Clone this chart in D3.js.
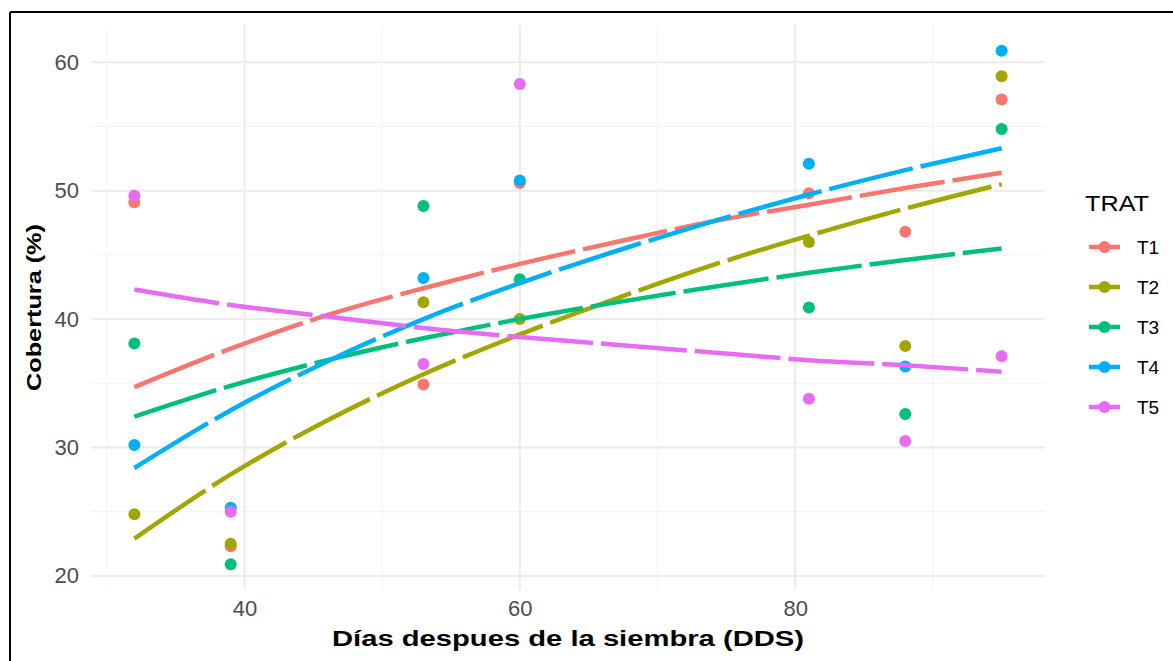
<!DOCTYPE html>
<html>
<head>
<meta charset="utf-8">
<script src="https://cdn.jsdelivr.net/npm/d3@7"></script>
<style>
  body { margin: 0; background: white; }
  text { font-family: "Liberation Sans", Arial, sans-serif; }
</style>
</head>
<body>
<div id="chart"></div>
<script>
// observed data
var days = [32, 39, 53, 60, 81, 88, 95];
var trats = ["T1", "T2", "T3", "T4", "T5"];
var t1 = [49.1, 22.3, 34.9, 50.6, 49.8, 46.8, 57.1];
var t2 = [24.8, 22.5, 41.3, 40.0, 46.0, 37.9, 58.9];
var t3 = [38.1, 20.9, 48.8, 43.1, 40.9, 32.6, 54.8];
var t4 = [30.2, 25.3, 43.2, 50.8, 52.1, 36.3, 60.9];
var t5 = [49.6, 25.0, 36.5, 58.3, 33.8, 30.5, 37.1];

// fitted trend lines
var fitDays = [32, 39, 46, 53, 60, 67, 74, 81, 88, 95];
var fit1 = [34.7, 37.7, 40.3, 42.4, 44.3, 46.0, 47.6, 48.9, 50.2, 51.4];
var fit2 = [22.9, 27.9, 32.1, 35.7, 38.8, 41.6, 44.2, 46.5, 48.6, 50.5];
var fit3 = [32.4, 34.8, 36.8, 38.5, 40.0, 41.3, 42.5, 43.6, 44.6, 45.5];
var fit4 = [28.4, 32.9, 36.7, 40.0, 42.8, 45.3, 47.6, 49.7, 51.6, 53.3];
var fit5 = [42.3, 41.1, 40.2, 39.3, 38.6, 38.0, 37.4, 36.8, 36.4, 35.9];

var xTicks = [40, 60, 80];
var yTicks = [20, 30, 40, 50, 60];

var obs = [t1, t2, t3, t4, t5];
var fits = [fit1, fit2, fit3, fit4, fit5];
var colors = ["#F8766D", "#A3A500", "#00BF7D", "#00B0F6", "#E76BF3"];

var width = 1173, height = 661;
var panel = {left: 91, right: 1045, top: 25, bottom: 590};

var svg = d3.select("#chart").append("svg")
    .attr("width", width)
    .attr("height", height)
    .style("background-color", "white");

var x = d3.scaleLinear()
    .domain([28.85, 98.15])
    .range([panel.left, panel.right]);
var y = d3.scaleLinear()
    .domain([18.9, 62.9])
    .range([panel.bottom, panel.top]);

// minor grid
var grid = svg.append("g");
grid.selectAll(".xminor")
    .data([30, 50, 70, 90])
    .enter().append("line")
    .attr("x1", d => x(d)).attr("x2", d => x(d))
    .attr("y1", panel.top).attr("y2", panel.bottom)
    .attr("stroke", "#f2f2f2").attr("stroke-width", 1);
grid.selectAll(".yminor")
    .data([25, 35, 45, 55])
    .enter().append("line")
    .attr("y1", d => y(d)).attr("y2", d => y(d))
    .attr("x1", panel.left).attr("x2", panel.right)
    .attr("stroke", "#f2f2f2").attr("stroke-width", 1);

// major grid
grid.selectAll(".xmajor")
    .data(xTicks)
    .enter().append("line")
    .attr("x1", d => x(d)).attr("x2", d => x(d))
    .attr("y1", panel.top).attr("y2", panel.bottom)
    .attr("stroke", "#ebebeb").attr("stroke-width", 2);
grid.selectAll(".ymajor")
    .data(yTicks)
    .enter().append("line")
    .attr("y1", d => y(d)).attr("y2", d => y(d))
    .attr("x1", panel.left).attr("x2", panel.right)
    .attr("stroke", "#ebebeb").attr("stroke-width", 2);

// axes (text only, like theme_minimal)
var xAxis = svg.append("g")
    .attr("transform", "translate(0," + panel.bottom + ")")
    .call(d3.axisBottom(x).tickValues(xTicks).tickSize(0).tickPadding(10));
var yAxis = svg.append("g")
    .attr("transform", "translate(" + panel.left + ",0)")
    .call(d3.axisLeft(y).tickValues(yTicks).tickSize(0).tickPadding(12));
[xAxis, yAxis].forEach(function(a) {
    a.select(".domain").remove();
    a.selectAll("text")
        .style("font-family", "Liberation Sans, Arial, sans-serif")
        .style("font-size", "22px")
        .attr("fill", "#4d4d4d");
});

svg.append("text")
    .attr("x", (panel.left + panel.right) / 2)
    .attr("y", 646)
    .attr("text-anchor", "middle")
    .attr("textLength", 472)
    .attr("lengthAdjust", "spacingAndGlyphs")
    .style("font-size", "22px")
    .style("font-weight", "bold")
    .text("Días despues de la siembra (DDS)");

svg.append("text")
    .attr("transform", "translate(41," + ((panel.top + panel.bottom) / 2) + ") rotate(-90)")
    .attr("text-anchor", "middle")
    .attr("textLength", 167)
    .attr("lengthAdjust", "spacingAndGlyphs")
    .style("font-size", "21px")
    .style("font-weight", "bold")
    .text("Cobertura (%)");

// points
trats.forEach(function(t, i) {
    svg.append("g").selectAll("circle")
        .data(days.map(function(d, j) { return {day: d, val: obs[i][j]}; }))
        .enter().append("circle")
        .attr("cx", d => x(d.day))
        .attr("cy", d => y(d.val))
        .attr("r", 6)
        .attr("fill", colors[i]);
});

// trend lines
var line = d3.line()
    .x(d => x(d.day))
    .y(d => y(d.val))
    .curve(d3.curveMonotoneX);

trats.forEach(function(t, i) {
    svg.append("path")
        .datum(fitDays.map(function(d, j) { return {day: d, val: fits[i][j]}; }))
        .attr("d", line)
        .attr("fill", "none")
        .attr("stroke", colors[i])
        .attr("stroke-width", 4.5)
        .attr("stroke-dasharray", "86,8");
});

// legend
var legend = svg.append("g");
legend.append("text")
    .attr("x", 1085)
    .attr("y", 211)
    .attr("textLength", 64)
    .attr("lengthAdjust", "spacingAndGlyphs")
    .style("font-size", "22px")
    .text("TRAT");

trats.forEach(function(t, i) {
    var ly = 247 + i * 40;
    legend.append("line")
        .attr("x1", 1089).attr("x2", 1120)
        .attr("y1", ly).attr("y2", ly)
        .attr("stroke", colors[i]).attr("stroke-width", 4.5);
    legend.append("circle")
        .attr("cx", 1104.5).attr("cy", ly).attr("r", 6)
        .attr("fill", colors[i]);
    legend.append("text")
        .attr("x", 1137)
        .attr("y", ly + 7)
        .style("font-size", "19px")
        .text(t);
});

// frame around the picture
svg.append("line")
    .attr("x1", 10).attr("x2", 10).attr("y1", 12).attr("y2", height)
    .attr("stroke", "black").attr("stroke-width", 2);
svg.append("line")
    .attr("x1", 10).attr("x2", width).attr("y1", 12).attr("y2", 12)
    .attr("stroke", "black").attr("stroke-width", 2);
</script>
</body>
</html>
